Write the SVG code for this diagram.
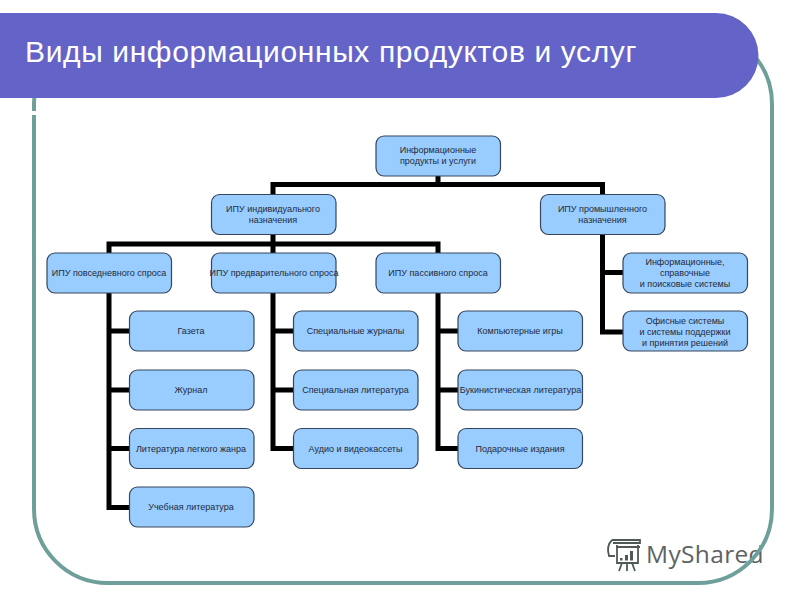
<svg xmlns="http://www.w3.org/2000/svg" width="800" height="600" viewBox="0 0 800 600">
<style>
.n use{fill:#99ccff;stroke:#36465c;stroke-width:1.2}
.n text{font-family:"Liberation Sans",Arial,sans-serif;font-size:9px;fill:#232b3a;text-anchor:middle}
#connectors path{fill:none;stroke:#000;stroke-width:5;stroke-linejoin:miter}
#title{font-family:"Liberation Sans",Arial,sans-serif;font-size:30px;fill:#fff;letter-spacing:.62px}
</style>
<defs>
<rect id="b" width="124.500" height="40" rx="8" ry="8"/>
</defs>
<rect width="800" height="600" fill="#fff"/>
<g id="logo">
<path d="M612 540H640V543H613M616 547H640M617 545V563H638V545M612 540Q606 546 609 556H615M622 563L619 571M627 563V571M632 563L635 571" fill="none" stroke="#4f5a58" stroke-width="1.800"/>
<path d="M620 558h2.500v2.500h-2.500zM625 555h3v5.500h-3zM630 551h3v9.500h-3z" fill="#4f5a58"/>
<text x="646" y="563" font-family="'Open Sans','Noto Sans',sans-serif" font-size="24.500" letter-spacing=".35" fill="#5c6362">MyShared</text>
</g>
<rect id="frame" x="34" y="30" width="738" height="553" rx="74" ry="74" fill="none" stroke="#6f9f9b" stroke-width="4"/>
<rect x="30" y="111" width="8" height="4" fill="#fff"/>
<path id="band" d="M0 13H716A42.500 42.500 0 0 1 716 98H0Z" fill="#6464c8"/>
<text id="title" x="25" y="62">Виды информационных продуктов и услуг</text>
<g id="connectors">
<path d="M438 175V184.500M273 194.500V184.500H602.500V194.500"/>
<path d="M273 234.500V253M109 253V244H438V253"/>
<path d="M602.500 234.500V332H623M602.500 272.500H623"/>
<path d="M109 293V507.500H129.500M109 331H129.500M109 390H129.500M109 448.500H129.500"/>
<path d="M273 293V448.500H293.500M273 331H293.500M273 390H293.500"/>
<path d="M438 293V448.500H458M438 331H458M438 390H458"/>
</g>
<g id="root" class="n"><use href="#b" x="376" y="136"/><text x="438" y="153">Информационные</text><text x="438" y="164">продукты и услуги</text></g>
<g id="ind" class="n"><use href="#b" x="211.500" y="194.500"/><text x="273" y="212">ИПУ индивидуального</text><text x="273" y="223">назначения</text></g>
<g id="prom" class="n"><use href="#b" x="540.500" y="194.500"/><text x="602.500" y="212">ИПУ промышленного</text><text x="602.500" y="223">назначения</text></g>
<g id="pov" class="n"><use href="#b" x="47" y="253"/><text x="109" y="276">ИПУ повседневного спроса</text></g>
<g id="pred" class="n"><use href="#b" x="211.500" y="253"/><text x="274" y="276">ИПУ предварительного спроса</text></g>
<g id="pas" class="n"><use href="#b" x="376" y="253"/><text x="438" y="276">ИПУ пассивного спроса</text></g>
<g id="gazeta" class="n"><use href="#b" x="129.500" y="311"/><text x="191" y="334">Газета</text></g>
<g id="zhurnal" class="n"><use href="#b" x="129.500" y="370"/><text x="191" y="393">Журнал</text></g>
<g id="leg" class="n"><use href="#b" x="129.500" y="428.500"/><text x="191" y="452">Литература легкого жанра</text></g>
<g id="ucheb" class="n"><use href="#b" x="129.500" y="487"/><text x="191" y="510">Учебная литература</text></g>
<g id="spj" class="n"><use href="#b" x="293.500" y="311"/><text x="355.500" y="334">Специальные журналы</text></g>
<g id="spl" class="n"><use href="#b" x="293.500" y="370"/><text x="355.500" y="393">Специальная литература</text></g>
<g id="audio" class="n"><use href="#b" x="293.500" y="428.500"/><text x="355.500" y="452">Аудио и видеокассеты</text></g>
<g id="komp" class="n"><use href="#b" x="458" y="311"/><text x="520" y="334">Компьютерные игры</text></g>
<g id="buk" class="n"><use href="#b" x="458" y="370"/><text x="520.500" y="393">Букинистическая литература</text></g>
<g id="pod" class="n"><use href="#b" x="458" y="428.500"/><text x="520" y="452">Подарочные издания</text></g>
<g id="info" class="n"><use href="#b" x="623" y="253"/><text x="685" y="265">Информационные,</text><text x="685" y="276">справочные</text><text x="685" y="287">и поисковые системы</text></g>
<g id="ofis" class="n"><use href="#b" x="623" y="311"/><text x="685" y="324">Офисные системы</text><text x="685" y="335">и системы поддержки</text><text x="685" y="346">и принятия решений</text></g>
</svg>
